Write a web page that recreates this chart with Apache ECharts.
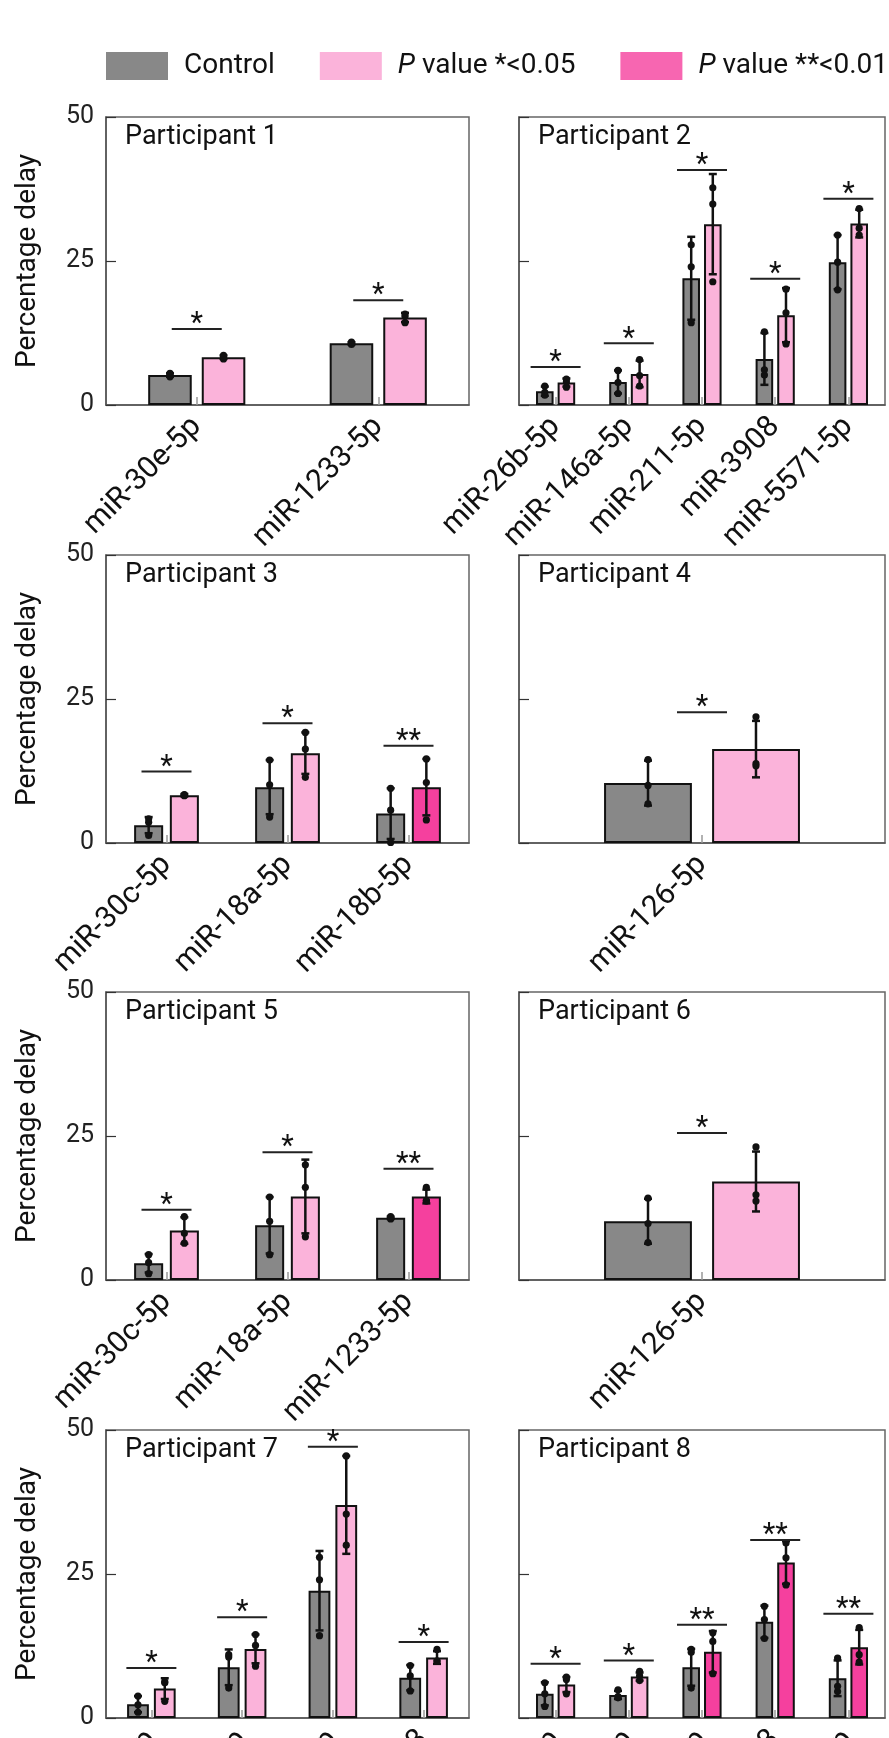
<!DOCTYPE html>
<html lang="en">
<head>
    <meta charset="utf-8">
    <title>Percentage delay per participant</title>
    <script src="https://cdn.jsdelivr.net/npm/echarts@6/dist/echarts.min.js"></script>
    <style>
        html, body { margin: 0; padding: 0; background: #fff; }
        #main { width: 889px; height: 1738px; }
    </style>
</head>
<body>
<div id="main"></div>

<script type="text/javascript">
    // ---- data, one entry per participant ----
    var panelNames = ['Participant 1', 'Participant 2', 'Participant 3', 'Participant 4',
                      'Participant 5', 'Participant 6', 'Participant 7', 'Participant 8'];

    var categories = [
        ['miR-30e-5p', 'miR-1233-5p'],
        ['miR-26b-5p', 'miR-146a-5p', 'miR-211-5p', 'miR-3908', 'miR-5571-5p'],
        ['miR-30c-5p', 'miR-18a-5p', 'miR-18b-5p'],
        ['miR-126-5p'],
        ['miR-30c-5p', 'miR-18a-5p', 'miR-1233-5p'],
        ['miR-126-5p'],
        ['miR-26b-5p', 'miR-146a-5p', 'miR-211-5p', 'miR-3908'],
        ['miR-26b-5p', 'miR-146a-5p', 'miR-211-5p', 'miR-3908', 'miR-5571-5p']
    ];

    var controlMean = [
        [5.2, 10.7],
        [2.4, 4.0, 22.0, 8.0, 24.8],
        [3.1, 9.7, 5.1],
        [10.4],
        [2.9, 9.5, 10.8],
        [10.2],
        [2.4, 8.8, 22.1, 7.0],
        [4.2, 4.0, 8.8, 16.7, 6.9]
    ];
    var controlSd = [
        [0.3, 0.2],
        [0.8, 2.0, 7.2, 4.5, 4.7],
        [1.4, 4.7, 4.4],
        [3.9],
        [1.6, 4.9, 0.2],
        [3.9],
        [1.4, 3.1, 6.9, 2.2],
        [2.0, 0.7, 3.2, 2.8, 3.1]
    ];
    var controlPts = [
        [[4.9, 5.2, 5.5], [10.5, 10.7, 10.9]],
        [[1.7, 2.2, 3.3], [2.0, 3.9, 6.0], [14.3, 24.0, 27.8], [5.2, 6.1, 12.7], [20.0, 24.8, 29.5]],
        [[1.3, 3.6, 4.2], [4.5, 10.1, 14.4], [0.1, 5.7, 9.5]],
        [[6.8, 10.0, 14.5]],
        [[1.1, 3.0, 4.4], [4.4, 10.2, 14.4], [10.6, 10.8, 11.0]],
        [[6.5, 9.8, 14.2]],
        [[1.0, 2.3, 3.8], [5.2, 10.6, 11.0], [14.3, 24.0, 27.9], [4.7, 7.3, 9.1]],
        [[2.0, 4.2, 6.1], [3.5, 3.7, 4.9], [5.2, 11.4, 11.9], [13.8, 17.1, 19.4], [4.6, 5.5, 10.4]]
    ];

    var treatMean = [
        [8.3, 15.2],
        [3.9, 5.4, 31.4, 15.6, 31.5],
        [8.3, 15.6, 9.7],
        [16.3],
        [8.6, 14.5, 14.5],
        [17.1],
        [5.1, 12.0, 37.0, 10.5],
        [5.8, 7.2, 11.5, 27.0, 12.3]
    ];
    var treatSd = [
        [0.3, 0.8],
        [0.7, 2.3, 8.7, 4.7, 2.4],
        [0.2, 3.6, 4.9],
        [4.9],
        [2.3, 6.4, 1.2],
        [5.2],
        [1.8, 2.5, 8.5, 1.1],
        [1.3, 0.7, 3.6, 3.7, 3.0]
    ];
    var treatPts = [
        [[8.0, 8.3, 8.6], [14.3, 15.4, 15.8]],
        [[3.1, 4.0, 4.5], [3.3, 5.1, 7.9], [21.4, 34.9, 37.7], [10.6, 16.0, 20.1], [29.5, 30.7, 34.1]],
        [[8.2, 8.3, 8.4], [11.4, 16.3, 19.2], [4.0, 10.5, 14.6]],
        [[13.4, 13.8, 21.9]],
        [[6.4, 8.1, 11.0], [7.5, 16.1, 20.0], [13.7, 13.8, 16.1]],
        [[13.7, 14.8, 23.1]],
        [[2.9, 6.1, 6.3], [9.0, 12.6, 14.5], [30.0, 35.4, 45.5], [9.9, 9.9, 11.9]],
        [[4.2, 6.7, 7.1], [6.5, 7.3, 8.1], [7.7, 13.3, 14.8], [23.1, 27.8, 30.4], [9.7, 11.0, 15.7]]
    ];

    // height of the significance bracket and its stars
    var sigHeight = [
        [13.2, 18.2],
        [6.6, 10.7, 40.8, 21.9, 35.8],
        [12.4, 20.8, 16.9],
        [22.7],
        [12.2, 22.2, 19.3],
        [25.5],
        [8.7, 17.5, 47.1, 13.2],
        [9.4, 10.0, 16.2, 30.9, 18.1]
    ];
    var sigStars = [
        ['*', '*'],
        ['*', '*', '*', '*', '*'],
        ['*', '*', '**'],
        ['*'],
        ['*', '*', '**'],
        ['*'],
        ['*', '*', '*', '*'],
        ['*', '*', '**', '**', '**']
    ];

    var yTicks = [0, 25, 50];

    // ---- style ----
    var GREY = '#888888', PINK = '#fbb3da', HOT = '#f5409e', INK = '#111111';
    var FONT = 'Roboto';
    var BAR_W = 0.24, BAR_GAP = 0.055;   // as fraction of the category band
    var OFF = (BAR_W + BAR_GAP) / 2;

    var rowTop = [117, 555, 992, 1430];
    var colLeft = [106, 519];
    var colWidth = [363, 366];
    var gridH = 288;

    var myChart = echarts.init(document.getElementById('main'), null, {renderer: 'canvas'});

    var grids = [], xAxes = [], yAxes = [], series = [], titles = [];

    function errRender(ptsArr) {
        return function (params, api) {
            var c = api.value(0), m = api.value(1), s = api.value(2), side = api.value(3);
            var band = api.size([1, 0])[0];
            var x = api.coord([c, 0])[0] + side * OFF * band;
            var yTop = api.coord([c, m + s])[1];
            var yBot = api.coord([c, Math.max(m - s, 0)])[1];
            var st = {stroke: INK, lineWidth: 2.5};
            var kids = [
                {type: 'line', shape: {x1: x, y1: yTop, x2: x, y2: yBot}, style: st},
                {type: 'line', shape: {x1: x - 4, y1: yTop, x2: x + 4, y2: yTop}, style: st},
                {type: 'line', shape: {x1: x - 4, y1: yBot, x2: x + 4, y2: yBot}, style: st}
            ];
            ptsArr[params.dataIndex].forEach(function (v) {
                var yy = api.coord([c, v])[1];
                kids.push({type: 'circle', shape: {cx: x, cy: yy, r: 3.6}, style: {fill: INK}});
            });
            return {type: 'group', children: kids};
        };
    }

    function sigRender(stars) {
        return function (params, api) {
            var c = api.value(0), h = api.value(1);
            var p = api.coord([c, h]);
            return {
                type: 'group',
                children: [
                    {type: 'line', shape: {x1: p[0] - 25, y1: p[1], x2: p[0] + 25, y2: p[1]},
                     style: {stroke: '#222', lineWidth: 2}},
                    {type: 'text', x: p[0], y: p[1] - 4,
                     style: {text: stars[params.dataIndex], fill: INK, fontSize: 29, fontFamily: FONT,
                             align: 'center', verticalAlign: 'middle'}}
                ]
            };
        };
    }

    for (var i = 0; i < 8; i++) {
        var row = Math.floor(i / 2), col = i % 2;
        grids.push({
            left: colLeft[col], top: rowTop[row], width: colWidth[col], height: gridH,
            containLabel: false, outerBoundsMode: 'none',
            show: true, borderColor: '#666', borderWidth: 1.5, backgroundColor: 'transparent'
        });
        titles.push({
            text: panelNames[i], left: colLeft[col] + 19, top: rowTop[row] + 7, padding: 0,
            textStyle: {fontFamily: FONT, fontSize: 27, fontWeight: 'normal', color: INK}
        });
        xAxes.push({
            type: 'category', gridIndex: i, data: categories[i],
            axisLine: {lineStyle: {color: '#555', width: 1.5}},
            axisTick: {show: true, inside: true, alignWithLabel: true, length: 8,
                       lineStyle: {color: '#999', width: 1.5}},
            axisLabel: {rotate: 45, margin: 17, fontSize: 30, fontFamily: FONT, color: INK,
                        interval: 0}
        });
        yAxes.push({
            type: 'value', gridIndex: i, min: yTicks[0], max: yTicks[2], interval: 25,
            name: col === 0 ? 'Percentage delay' : '',
            nameLocation: 'middle', nameGap: 64,
            nameTextStyle: {fontFamily: FONT, fontSize: 28, color: INK},
            splitLine: {show: false},
            axisLine: {show: true, lineStyle: {color: '#555', width: 1.5}},
            axisTick: {show: true, inside: true, length: 10, lineStyle: {color: '#333', width: 1.2}},
            axisLabel: {show: col === 0, margin: 12, fontSize: 25, fontFamily: FONT, color: '#222'}
        });

        series.push({
            name: 'Control', type: 'bar', xAxisIndex: i, yAxisIndex: i,
            barWidth: (BAR_W * 100) + '%', barGap: Math.round(BAR_GAP / BAR_W * 100) + '%',
            itemStyle: {color: GREY, borderColor: INK, borderWidth: 2},
            data: controlMean[i]
        });
        series.push({
            name: 'P value *<0.05', type: 'bar', xAxisIndex: i, yAxisIndex: i,
            barWidth: (BAR_W * 100) + '%', barGap: Math.round(BAR_GAP / BAR_W * 100) + '%',
            itemStyle: {color: PINK, borderColor: INK, borderWidth: 2},
            data: treatMean[i].map(function (v, k) {
                return {value: v, itemStyle: {color: sigStars[i][k] === '**' ? HOT : PINK}};
            })
        });

        var errData = [];
        controlMean[i].forEach(function (v, k) { errData.push([k, v, controlSd[i][k], -1]); });
        var errData2 = [];
        treatMean[i].forEach(function (v, k) { errData2.push([k, v, treatSd[i][k], 1]); });
        series.push({
            type: 'custom', xAxisIndex: i, yAxisIndex: i, z: 5, silent: true,
            renderItem: errRender(controlPts[i]), data: errData
        });
        series.push({
            type: 'custom', xAxisIndex: i, yAxisIndex: i, z: 5, silent: true,
            renderItem: errRender(treatPts[i]), data: errData2
        });
        series.push({
            type: 'custom', xAxisIndex: i, yAxisIndex: i, z: 5, silent: true,
            renderItem: sigRender(sigStars[i]),
            data: sigHeight[i].map(function (h, k) { return [k, h]; })
        });
    }

    // legend-only entry for the stronger significance colour
    series.push({name: 'P value **<0.01', type: 'scatter', xAxisIndex: 0, yAxisIndex: 0,
                 itemStyle: {color: HOT}, data: []});

    myChart.setOption({
        animation: false,
        title: titles,
        legend: {
            left: 101, top: 47, width: 788, padding: 5,
            itemWidth: 62, itemHeight: 28, itemGap: 45,
            selectedMode: false,
            itemStyle: {borderWidth: 0},
            textStyle: {fontFamily: FONT, fontSize: 28, color: INK, padding: [0, 0, 0, 11],
                        rich: {i: {fontStyle: 'italic', fontFamily: FONT, fontSize: 28, color: INK}}},
            formatter: function (name) {
                return name.indexOf('P value') === 0 ? '{i|P} ' + name.slice(2) : name;
            },
            data: [
                {name: 'Control', icon: 'rect', itemStyle: {color: GREY, borderWidth: 0}},
                {name: 'P value *<0.05', icon: 'rect', itemStyle: {color: PINK, borderWidth: 0}},
                {name: 'P value **<0.01', icon: 'rect', itemStyle: {color: HOT, borderWidth: 0}}
            ]
        },
        grid: grids,
        xAxis: xAxes,
        yAxis: yAxes,
        series: series
    });
</script>
</body>
</html>
